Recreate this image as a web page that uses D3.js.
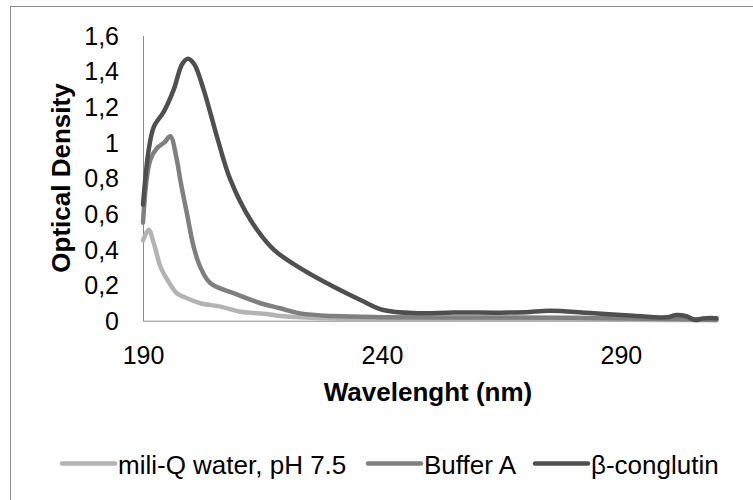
<!DOCTYPE html>
<html>
<head>
<meta charset="utf-8">
<script src="https://cdn.jsdelivr.net/npm/d3@7"></script>
<style>
  body { margin: 0; background: #fff; }
  text { font-family: "Liberation Sans", Arial, sans-serif; fill: #000; }
</style>
</head>
<body>
<div id="chart-area"></div>
<script>
var width = 753;
var height = 500;

// series names
var seriesNames = ["mili-Q water, pH 7.5", "Buffer A", "β-conglutin"];
var seriesColors = ["#b3b3b3", "#7f7f7f", "#4f4f4f"];

// mili-Q water
var waterNm  = [190, 191.2, 192.3, 193.7, 195.1, 197.1, 199.2, 202, 206.2, 210.4, 216, 218.7, 222.9, 230, 245, 260, 280, 300, 310];
var waterOD  = [0.45, 0.51, 0.43, 0.30, 0.23, 0.154, 0.126, 0.098, 0.079, 0.05, 0.038, 0.026, 0.019, 0.012, 0.008, 0.007, 0.006, 0.004, 0.003];

// Buffer A
var bufferNm = [190, 191.5, 193, 194.5, 195.7, 197.1, 197.8, 199.2, 200.6, 202, 204.1, 209, 214.6, 218.7, 222.9, 229.8, 240, 260, 280, 300, 310];
var bufferOD = [0.55, 0.90, 0.97, 1.0, 1.035, 0.90, 0.79, 0.60, 0.415, 0.30, 0.21, 0.154, 0.098, 0.07, 0.041, 0.026, 0.02, 0.018, 0.016, 0.01, 0.006];

// beta-conglutin
var betaNm = [190, 191.2, 192.3, 194.3, 196.4, 198.2, 199.4, 200.7, 202.7, 205.5, 208.3, 212.5, 217.3, 222.9, 229.9, 235.5, 240.3, 247.3, 255, 264.7, 270, 275.2, 282.8, 292.6, 299.6, 301.6, 303.7, 305.5, 307.2, 310];
var betaOD = [0.65, 0.96, 1.09, 1.17, 1.295, 1.44, 1.47, 1.44, 1.295, 1.03, 0.79, 0.565, 0.40, 0.295, 0.19, 0.116, 0.06, 0.042, 0.046, 0.045, 0.048, 0.056, 0.045, 0.028, 0.019, 0.032, 0.025, 0.004, 0.013, 0.014];

// tick labels
var xTicks = [190, 240, 290];
var yTicks = [0, 0.2, 0.4, 0.6, 0.8, 1, 1.2, 1.4, 1.6];

var series = [
  { nm: waterNm, od: waterOD },
  { nm: bufferNm, od: bufferOD },
  { nm: betaNm, od: betaOD }
];

var svg = d3.select("#chart-area")
  .append("svg")
  .attr("width", width)
  .attr("height", height);

// chart border
svg.append("rect")
  .attr("x", 10.5)
  .attr("y", 6.5)
  .attr("width", 780)
  .attr("height", 520)
  .attr("fill", "none")
  .attr("stroke", "#8c8c8c")
  .attr("stroke-width", 1);

var x = d3.scaleLinear()
  .domain([190, 310])
  .range([143, 716.5]);

var y = d3.scaleLinear()
  .domain([0, 1.6])
  .range([320.7, 35.5]);

var fmt = function(d) {
  return String(d).replace(".", ",");
};

// y axis
var yAxis = svg.append("g")
  .attr("transform", "translate(" + x(190) + ",0)")
  .call(d3.axisLeft(y).tickValues(yTicks).tickSize(0).tickPadding(24).tickFormat(fmt));
yAxis.select(".domain").attr("stroke", "#8c8c8c");
yAxis.selectAll("text")
  .style("font-size", "25px")
  .style("font-family", "Liberation Sans, Arial, sans-serif")
  .attr("dy", "0.35em");

// x axis
var xAxis = svg.append("g")
  .attr("transform", "translate(0," + y(0) + ")")
  .call(d3.axisBottom(x).tickValues(xTicks).tickSize(0).tickPadding(26));
xAxis.select(".domain").attr("stroke", "#8c8c8c");
xAxis.selectAll("text")
  .style("font-size", "25px")
  .style("font-family", "Liberation Sans, Arial, sans-serif")
  .attr("dy", "0.71em");

// axis titles
svg.append("text")
  .attr("x", 428)
  .attr("y", 401)
  .attr("text-anchor", "middle")
  .style("font-size", "26px")
  .style("font-weight", "bold")
  .text("Wavelenght (nm)");

svg.append("text")
  .attr("transform", "translate(70,178) rotate(-90)")
  .attr("text-anchor", "middle")
  .style("font-size", "26px")
  .style("font-weight", "bold")
  .text("Optical Density");

// lines
var line = d3.line()
  .x(function(d) { return x(d[0]); })
  .y(function(d) { return y(d[1]); })
  .curve(d3.curveCatmullRom.alpha(0.5));

series.forEach(function(s, i) {
  svg.append("path")
    .datum(d3.zip(s.nm, s.od))
    .attr("d", line)
    .attr("fill", "none")
    .attr("stroke", seriesColors[i])
    .attr("stroke-width", 4.5)
    .attr("stroke-linejoin", "round")
    .attr("stroke-linecap", "round");
});

// legend
var legendX = [62, 368, 535];
var legend = svg.selectAll(".legend")
  .data(seriesNames)
  .enter()
  .append("g")
  .attr("class", "legend")
  .attr("transform", function(d, i) {
    return "translate(" + legendX[i] + ",463.5)";
  });

legend.append("line")
  .attr("x1", 0)
  .attr("x2", 53)
  .attr("stroke", function(d, i) { return seriesColors[i]; })
  .attr("stroke-width", 4.5)
  .attr("stroke-linecap", "round");

legend.append("text")
  .attr("x", 56)
  .attr("y", 10)
  .style("font-size", "26px")
  .text(function(d) { return d; });
</script>
</body>
</html>
